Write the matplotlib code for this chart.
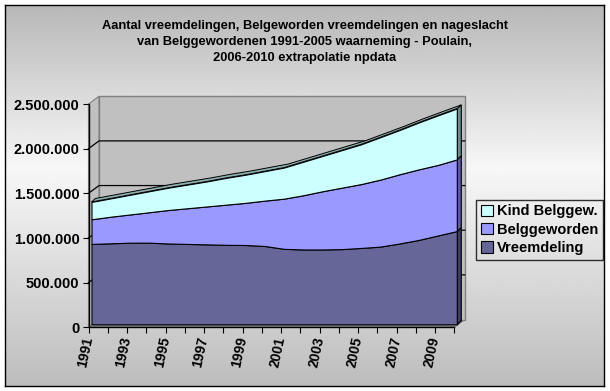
import numpy as np
import matplotlib
matplotlib.use('Agg')
import matplotlib.pyplot as plt
from matplotlib.patches import Polygon, Patch
from matplotlib.ticker import FuncFormatter, MultipleLocator

# ---------------------------------------------------------------------------
# data (duizenden personen)
# ---------------------------------------------------------------------------
years = list(range(1991, 2011))
vreemdeling = [900, 907, 914, 914, 905, 900, 895, 890, 888, 877,
               845, 838, 838, 842, 855, 870, 905, 945, 995, 1045]
belggeworden = [276, 298, 316, 341, 375, 400, 425, 450, 472, 508,
                562, 607, 652, 688, 715, 750, 775, 790, 790, 803]
kind_belggew = [194, 205, 220, 235, 250, 265, 280, 300, 315, 330,
                348, 375, 395, 420, 445, 475, 495, 525, 555, 570]
series_names = ['Vreemdeling', 'Belggeworden', 'Kind Belggew.']
front_colors = ['#666699', '#9999ff', '#ccffff']
side_colors = ['#3d3d66', '#5c5c99', '#6b8f8f']

title = ('Aantal vreemdelingen, Belgeworden vreemdelingen en nageslacht\n'
         'van Belggewordenen 1991-2005 waarneming - Poulain,\n'
         '2006-2010 extrapolatie npdata')

plt.rcParams['font.family'] = ['Liberation Sans', 'DejaVu Sans']

W, H = 610, 391
fig = plt.figure(figsize=(W / 100, H / 100), dpi=100)
fig.patch.set_facecolor('white')

# achtergrond met verloop + zwarte rand (witte marge rondom)
bg = fig.add_axes([5 / W, (H - 386) / H, 599 / W, 381 / H])
grad = np.interp(np.linspace(0, 1, 300), [0, .43, 1], [.72, .97, .74])
bg.imshow(grad[:, None], cmap='gray', vmin=0, vmax=1, aspect='auto',
          extent=[0, 1, 0, 1])
bg.set_xticks([])
bg.set_yticks([])
for s in bg.spines.values():
    s.set_color('k')
    s.set_linewidth(1)

# hoofdas = vlak van de assen (voorkant van de vloer)
ax = fig.add_axes([88.5 / W, (H - 327.3) / H, 365.8 / W, 223.25 / H])
ax.set_xlim(1991, 2010)
ax.set_ylim(0, 2.5e6)
ax.patch.set_visible(False)

ppx = ax.transData.transform((1992, 1e6)) - ax.transData.transform((1991, 0))


def dx(p):
    return p / ppx[0]


def dy(p):
    return p / ppx[1] * 1e6


# wanden en vloer
wx, wy = dx(10.5), dy(7.8)
x0, x1, ytop = 1991, 2010, 2.5e6
ax.add_patch(Polygon([(x0, 0), (x1, 0), (x1 + wx, wy), (x0 + wx, wy)],
                     fc='#808080', ec='#808080', lw=0.8, zorder=1,
                     clip_on=False))
ax.add_patch(Polygon([(x0, 0), (x0, ytop), (x0 + wx, ytop + wy), (x0 + wx, wy)],
                     fc='#c0c0c0', ec='#808080', lw=0.8, zorder=1,
                     clip_on=False))
ax.add_patch(Polygon([(x0 + wx, wy), (x0 + wx, ytop + wy),
                      (x1 + wx, ytop + wy), (x1 + wx, wy)],
                     fc='#c0c0c0', ec='#808080', lw=1.0, zorder=1,
                     clip_on=False))
for v in (5e5, 1e6, 1.5e6, 2e6):
    ax.plot([x0, x0 + wx, x1 + wx], [v, v + wy, v + wy], color='k',
            lw=0.9, zorder=2, clip_on=False)

# gestapelde vlakken
fx, fy = dx(3), dy(3)
bx, by = dx(7), dy(6.5)
yrs = np.array(years, dtype=float)
base = np.zeros(len(years))
for vals, fc, sc in zip([vreemdeling, belggeworden, kind_belggew],
                        front_colors, side_colors):
    top = base + np.array(vals) * 1000.
    ax.fill_between(yrs + fx, base + fy, top + fy, facecolor=fc,
                    edgecolor='k', lw=0.8, zorder=4, clip_on=False)
    ax.add_patch(Polygon([(x1 + fx, base[-1] + fy), (x1 + fx, top[-1] + fy),
                          (x1 + bx, top[-1] + by), (x1 + bx, base[-1] + by)],
                         fc=sc, ec='k', lw=0.8, zorder=4, clip_on=False))
    base = top
strip = np.column_stack([np.concatenate([yrs + fx, (yrs + bx)[::-1]]),
                         np.concatenate([base + fy, (base + by)[::-1]])])
ax.add_patch(Polygon(strip, fc='#8fb0b0', ec='k', lw=0.7, zorder=4,
                     clip_on=False))

# assen
for side in ('top', 'right'):
    ax.spines[side].set_visible(False)
for side in ('left', 'bottom'):
    ax.spines[side].set_color('k')
    ax.spines[side].set_linewidth(1)
    ax.spines[side].set_zorder(5)
ax.yaxis.set_major_locator(MultipleLocator(5e5))
ax.yaxis.set_major_formatter(
    FuncFormatter(lambda v, p: '{:,}'.format(int(v)).replace(',', '.')))
ax.set_xticks(years)
ax.set_xticklabels([str(y) if (y - 1991) % 2 == 0 else '' for y in years],
                   rotation=78, ha='right', va='center',
                   rotation_mode='anchor', fontsize=10, fontweight='bold')
ax.tick_params(axis='x', direction='out', length=4, width=0.8, pad=3)
ax.tick_params(axis='y', direction='out', length=4, width=0.8, pad=2.5,
               labelsize=10.5)
for lab in ax.get_yticklabels():
    lab.set_fontweight('bold')

# titel
fig.text(304.5 / W, 1 - 41.7 / H, title, ha='center', va='center',
         fontsize=9.3, fontweight='bold', linespacing=1.45)

# legenda
handles = [Patch(facecolor=c, edgecolor='k', lw=0.8, label=n)
           for n, c in zip(series_names[::-1], front_colors[::-1])]
leg = fig.legend(handles=handles, loc='upper left',
                 bbox_to_anchor=(476.5 / W, 1 - 200 / H), borderaxespad=0,
                 prop={'weight': 'bold', 'size': 10.5}, fancybox=False,
                 edgecolor='k', facecolor='none', framealpha=None,
                 handlelength=0.8, handleheight=0.8, handletextpad=0.3,
                 borderpad=0.3, labelspacing=0.3)
leg.get_frame().set_linewidth(1)

fig.savefig('out.png', dpi=100)
